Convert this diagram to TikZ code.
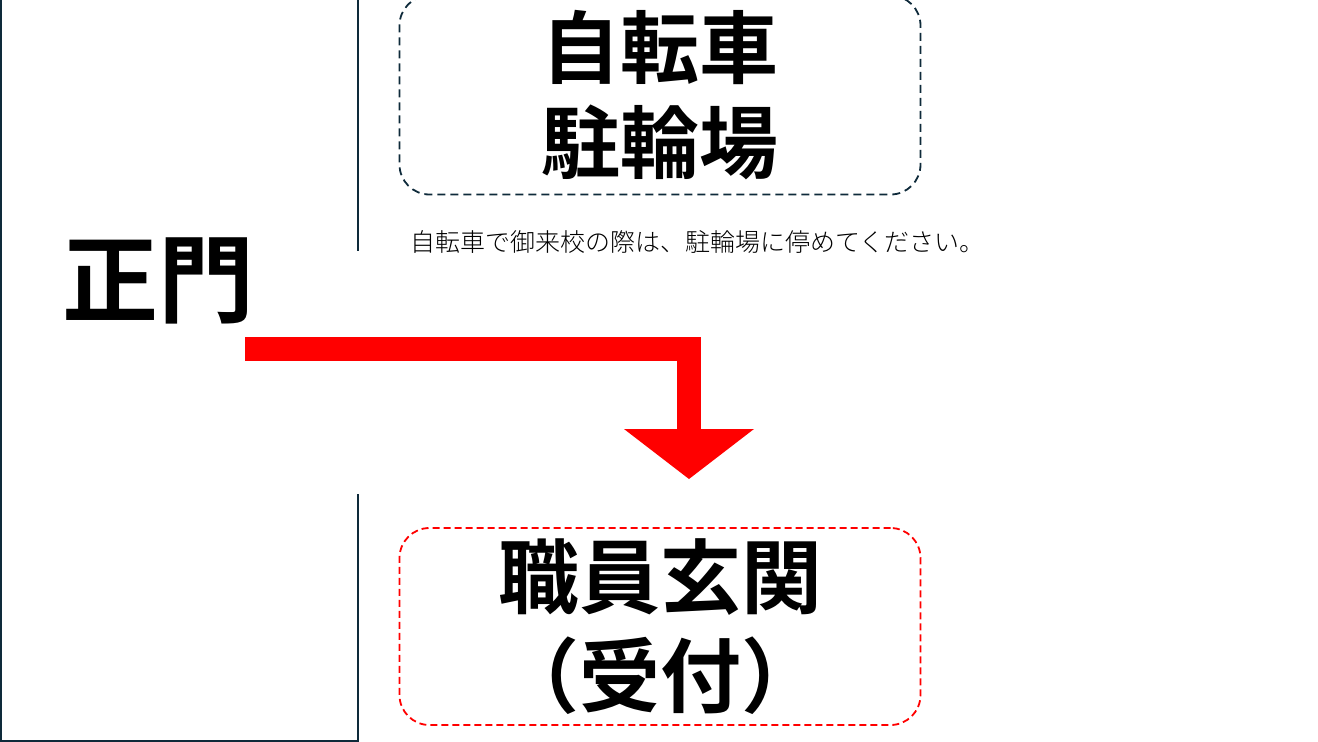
\documentclass[tikz,border=0pt]{standalone}
\usepackage{fontspec}
\usepackage{tikz}
\usetikzlibrary{positioning,arrows.meta,shapes}
\newfontfamily\jpfont{Noto Sans CJK JP Bold}
\newfontfamily\jplight{Noto Sans CJK JP Light}
\definecolor{wallcol}{HTML}{0E2A3A}
\definecolor{arrowred}{HTML}{FF0000}
\tikzstyle{gbox}=[rectangle, rounded corners=30pt, draw=wallcol, dash pattern=on 8pt off 5pt,
                    line width=1.8pt, minimum width=521pt, minimum height=199pt, inner sep=0pt,
                    align=center, font=\jpfont\fontsize{79}{95}\selectfont]
\tikzstyle{rbox}=[rectangle, rounded corners=30pt, draw=arrowred, dash pattern=on 7pt off 4pt,
                    line width=1.8pt, minimum width=521pt, minimum height=197pt, inner sep=0pt,
                    align=center, font=\jpfont\fontsize{81}{99}\selectfont]
\tikzstyle{biglabel}=[inner sep=0pt, font=\jpfont\fontsize{96}{96}\selectfont]
\tikzstyle{notelabel}=[inner sep=0pt, anchor=west, font=\jplight\fontsize{25}{25}\selectfont]
\tikzstyle{wline}=[-, draw=wallcol, line width=2pt]
\tikzstyle{redarrow}=[draw=arrowred, line width=24pt,
                    -{Triangle[width=130pt,length=50pt,line width=0pt]}]

\begin{document}
\begin{tikzpicture}[x=1pt,y=-1pt]
\useasboundingbox (0,0) rectangle (1318,742);

% walls of the gate
\draw[wline] (358,0) -- (358,251);
\draw[wline] (358,494) -- (358,741) -- (1,741) -- (1,0);

\node (GATE) [biglabel] at (158,281) {正門};

\node (BIKE) [gbox] at (660,95) {自転車\\駐輪場};
\node (NOTE) [notelabel] at (410,242) {自転車で御来校の際は、駐輪場に停めてください。};

\node (STAFF) [rbox] at (660,626.5) {職員玄関\\（受付）};

\coordinate (ARRS) at (245,349);
\coordinate (ARRE) at (689,479);
 \draw[redarrow] (ARRS) -| (ARRE) ;

\end{tikzpicture}
\end{document}
